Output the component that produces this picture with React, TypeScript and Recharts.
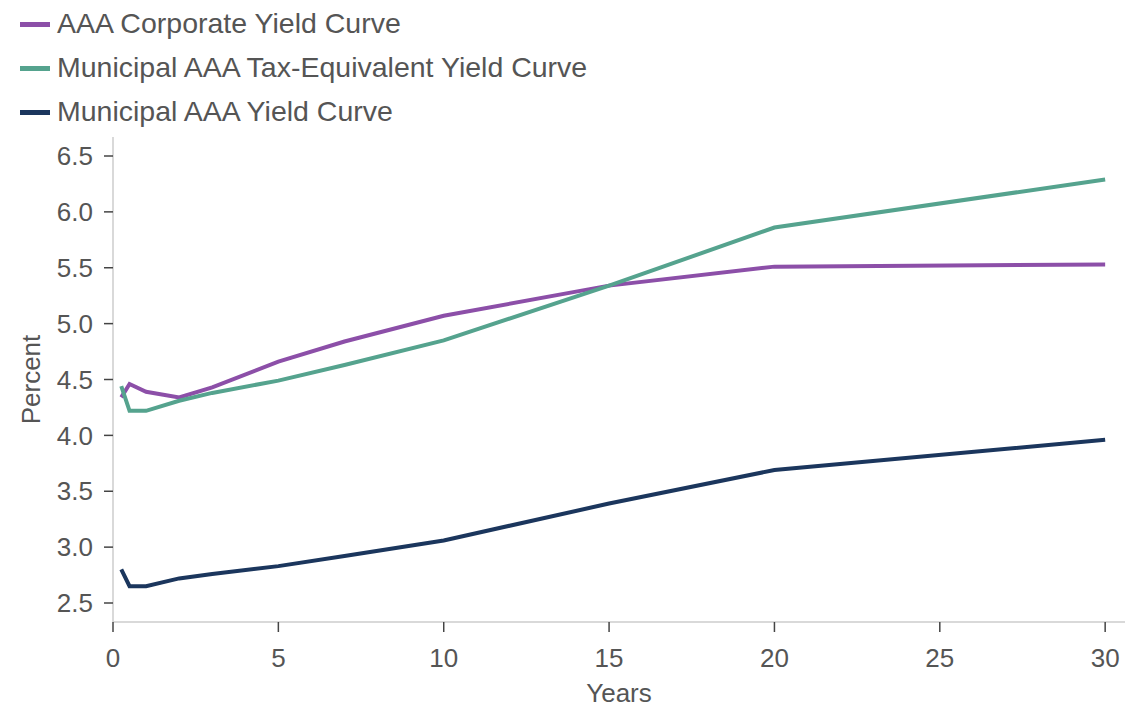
import React from 'react';
import { LineChart, Line, XAxis, YAxis, Legend } from 'recharts';

const tenors = [0.25, 0.5, 1, 2, 3, 5, 7, 10, 15, 20, 30];
const corporateAAA = [4.34, 4.46, 4.39, 4.34, 4.43, 4.66, 4.84, 5.07, 5.34, 5.51, 5.53];
const muniTaxEquivalent = [4.44, 4.22, 4.22, 4.31, 4.38, 4.49, 4.63, 4.85, 5.34, 5.86, 6.29];
const muniAAA = [2.8, 2.65, 2.65, 2.72, 2.76, 2.83, 2.92, 3.06, 3.39, 3.69, 3.96];

const seriesNames = ['AAA Corporate Yield Curve', 'Municipal AAA Tax-Equivalent Yield Curve', 'Municipal AAA Yield Curve'];
const seriesKeys = ['corp', 'taxEq', 'muni'];
const seriesColors = ['#8C4FA8', '#55A38E', '#1B365D'];

const xTicks = [0, 5, 10, 15, 20, 25, 30];
const yTicks = [2.5, 3.0, 3.5, 4.0, 4.5, 5.0, 5.5, 6.0, 6.5];

const data = tenors.map((t, i) => ({
  years: t,
  corp: corporateAAA[i],
  taxEq: muniTaxEquivalent[i],
  muni: muniAAA[i],
}));

const FONT = 'Liberation Sans, Arial, Helvetica, sans-serif';
const TEXT = '#555555';

const LegendContent = () => (
  <div style={{ position: 'relative', width: 800, height: 137, fontFamily: FONT }}>
    {seriesNames.map((name, i) => (
      <div
        key={name}
        style={{ position: 'absolute', left: 20, top: 9 + i * 44, height: 28, display: 'flex', alignItems: 'center' }}
      >
        <div style={{ width: 30, height: 5, background: seriesColors[i], marginRight: 7, marginTop: 2 }} />
        <span style={{ fontSize: 28.5, lineHeight: '28px', color: TEXT, whiteSpace: 'nowrap' }}>{name}</span>
      </div>
    ))}
  </div>
);

const YLabel = (props: any) => {
  const vb = props.viewBox || {};
  const cx = 31;
  const cy = vb.y + vb.height / 2;
  return (
    <text
      x={cx}
      y={cy}
      transform={`rotate(-90, ${cx}, ${cy})`}
      textAnchor="middle"
      dominantBaseline="central"
      fill={TEXT}
      fontSize={26}
      fontFamily={FONT}
    >
      Percent
    </text>
  );
};

const XLabel = (props: any) => {
  const vb = props.viewBox || {};
  const cx = vb.x + vb.width / 2;
  return (
    <text x={cx} y={702} textAnchor="middle" fill={TEXT} fontSize={26} fontFamily={FONT}>
      Years
    </text>
  );
};

export default function App() {
  return (
    <div style={{ position: 'absolute', left: 0, top: 0, background: '#fff' }}>
      <style>{`body{margin:0}`}</style>
      <LineChart width={1125} height={708} data={data} margin={{ top: 0, right: 0, bottom: 0, left: 0 }}>
        <Legend
          verticalAlign="top"
          align="left"
          layout="horizontal"
          content={<LegendContent />}
          wrapperStyle={{ top: 0, left: 0, width: 800, height: 137 }}
          height={137}
        />
        <XAxis
          dataKey="years"
          type="number"
          domain={[0, 30.6]}
          ticks={xTicks}
          allowDataOverflow
          height={86}
          axisLine={{ stroke: '#cccccc', strokeWidth: 1.5 }}
          tickLine={{ stroke: '#444444', strokeWidth: 1.5 }}
          tickSize={10}
          tickMargin={17}
          tick={{ fill: TEXT, fontSize: 26, fontFamily: FONT }}
          label={<XLabel />}
        />
        <YAxis
          type="number"
          domain={[2.33, 6.67]}
          ticks={yTicks}
          allowDataOverflow
          width={113}
          axisLine={{ stroke: '#cccccc', strokeWidth: 1.5 }}
          tickLine={{ stroke: '#444444', strokeWidth: 1.5 }}
          tickSize={9}
          tickMargin={11}
          tickFormatter={(v: number) => v.toFixed(1)}
          tick={{ fill: TEXT, fontSize: 26, fontFamily: FONT }}
          label={<YLabel />}
        />
        {seriesKeys.map((k, i) => (
          <Line
            key={k}
            dataKey={k}
            name={seriesNames[i]}
            stroke={seriesColors[i]}
            strokeWidth={4}
            dot={false}
            activeDot={false}
            type="linear"
            isAnimationActive={false}
          />
        ))}
      </LineChart>
    </div>
  );
}
